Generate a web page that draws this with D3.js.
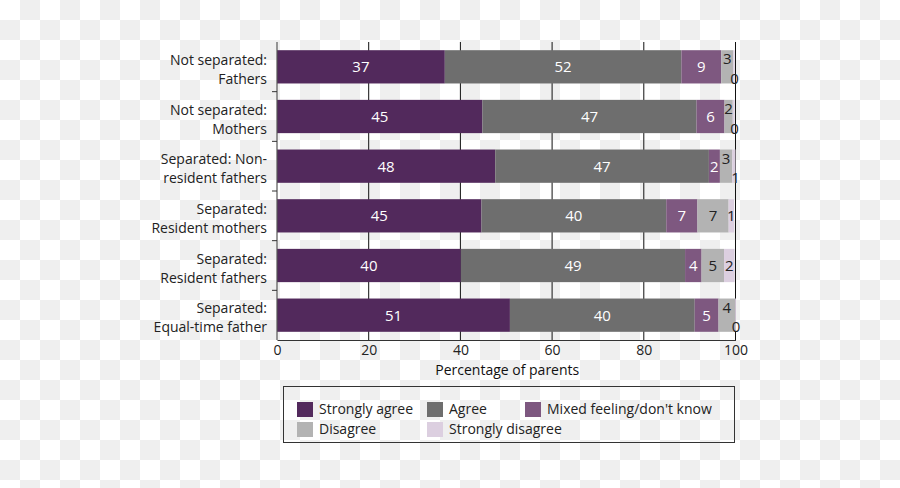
<!DOCTYPE html>
<html><head><meta charset="utf-8">
<script src="https://cdn.jsdelivr.net/npm/d3@7"></script>
<style>body{margin:0;padding:0;}svg{display:block;}</style>
</head><body>
<svg id="chart" width="900" height="488"></svg>
<script>
const categories = [
  ["Not separated:", "Fathers"],
  ["Not separated:", "Mothers"],
  ["Separated: Non-", "resident fathers"],
  ["Separated:", "Resident mothers"],
  ["Separated:", "Resident fathers"],
  ["Separated:", "Equal-time father"]
];
const seriesNames = ["Strongly agree", "Agree", "Mixed feeling/don't know", "Disagree", "Strongly disagree"];
const stronglyAgree    = [36.6, 44.8, 47.6, 44.6, 40.1, 50.8];
const agree            = [51.6, 46.7, 46.6, 40.3, 48.9, 40.3];
const mixed            = [8.7, 6.1, 2.4, 6.8, 3.6, 5.2];
const disagree         = [2.6, 1.8, 2.7, 6.8, 4.9, 3.6];
const stronglyDisagree = [0.3, 0.4, 0.7, 1.2, 2.3, 0.2];
const xTicks = [0, 20, 40, 60, 80, 100];
const colors = ["#52295c", "#6e6e6e", "#7e5880", "#b3b3b3", "#dccfe0"];
const labelColors = ["#ffffff", "#ffffff", "#ffffff", "#222222", "#222222"];

const series = [stronglyAgree, agree, mixed, disagree, stronglyDisagree];
const W = 900, H = 488;
const svg = d3.select("#chart");
const font = "'Open Sans', 'Noto Sans', sans-serif";

// checkerboard background
const defs = svg.append("defs");
const pat = defs.append("pattern").attr("id", "chk").attr("width", 40).attr("height", 40).attr("patternUnits", "userSpaceOnUse");
pat.append("rect").attr("width", 40).attr("height", 40).attr("fill", "#ffffff");
pat.append("rect").attr("x", 20).attr("y", 0).attr("width", 20).attr("height", 20).attr("fill", "#efefef");
pat.append("rect").attr("x", 0).attr("y", 20).attr("width", 20).attr("height", 20).attr("fill", "#efefef");
svg.append("rect").attr("width", W).attr("height", H).attr("fill", "url(#chk)");

const x = d3.scaleLinear().domain([0, 100]).range([277, 735.5]);
const y = d3.scaleBand().domain(d3.range(categories.length)).range([42, 340]).paddingInner(0.33).paddingOuter(0.165);

// gridlines
svg.append("g").selectAll("line").data(xTicks.slice(1)).join("line")
  .attr("x1", d => x(d)).attr("x2", d => x(d)).attr("y1", 42).attr("y2", 340)
  .attr("stroke", "#111").attr("stroke-width", 1);

// stacked data
const rows = categories.map((c, i) => {
  let cum = 0;
  return series.map((s, k) => { const d = {i, k, v: s[i], x0: cum, x1: cum + s[i]}; cum += s[i]; return d; });
});

const g = svg.append("g");
rows.forEach(r => {
  g.selectAll(null).data(r).join("rect")
    .attr("x", d => x(d.x0)).attr("width", d => x(d.x1) - x(d.x0))
    .attr("y", d => y(d.i)).attr("height", y.bandwidth())
    .attr("fill", d => colors[d.k]);
});

// labels
rows.forEach(r => {
  const stagger = r[3].v < 4;
  r.forEach(d => {
    let lx = (x(d.x0) + x(d.x1)) / 2, ly = y(d.i) + y.bandwidth() / 2 + 5.5, col = labelColors[d.k];
    if (stagger && d.k === 3) { ly = y(d.i) + 14; col = "#222"; }
    if (stagger && d.k === 4) { lx = x(d.x1); ly = y(d.i) + y.bandwidth() + 0.5; col = "#222"; }
    svg.append("text").attr("x", lx).attr("y", ly).attr("text-anchor", "middle")
      .attr("font-family", font).attr("font-size", 15).attr("fill", col)
      .text(Math.round(d.v));
  });
});

// axes
const xAxis = svg.append("g").attr("transform", "translate(0,340)")
  .call(d3.axisBottom(x).tickValues(xTicks).tickSize(0).tickPadding(5));
xAxis.select(".domain").attr("stroke", "#333");
xAxis.selectAll("text").attr("font-family", font).attr("font-size", 14).attr("fill", "#222");

svg.append("line").attr("x1", 277).attr("x2", 277).attr("y1", 42).attr("y2", 340).attr("stroke", "#555").attr("stroke-width", 1.2);
const bounds = d3.range(1, categories.length).map(i => y(i) - y.step() * y.paddingInner() / 2);
svg.append("g").selectAll("line").data(bounds).join("line")
  .attr("x1", 272).attr("x2", 277).attr("y1", d => d).attr("y2", d => d).attr("stroke", "#333");

svg.append("text").attr("x", x(50) + 1).attr("y", 375).attr("text-anchor", "middle")
  .attr("font-family", font).attr("font-size", 14).attr("fill", "#111").text("Percentage of parents");

// category labels
categories.forEach((c, i) => {
  const cy = y(i) + y.bandwidth() / 2;
  c.forEach((line, j) => {
    svg.append("text").attr("x", 267).attr("y", cy - 2 + j * 19).attr("text-anchor", "end")
      .attr("font-family", font).attr("font-size", 14).attr("fill", "#222").text(line);
  });
});

// legend
svg.append("rect").attr("x", 283.5).attr("y", 386.5).attr("width", 451).attr("height", 56)
  .attr("fill", "none").attr("stroke", "#333").attr("stroke-width", 1);
const legPos = [[297, 402], [427, 402], [525, 402], [297, 422], [427, 422]];
seriesNames.forEach((n, k) => {
  const [lx, ly] = legPos[k];
  svg.append("rect").attr("x", lx).attr("y", ly).attr("width", 16).attr("height", 15).attr("fill", colors[k]);
  svg.append("text").attr("x", lx + 22).attr("y", ly + 12).attr("font-family", font).attr("font-size", 14)
    .attr("fill", "#222").text(n);
});
</script>
</body></html>
